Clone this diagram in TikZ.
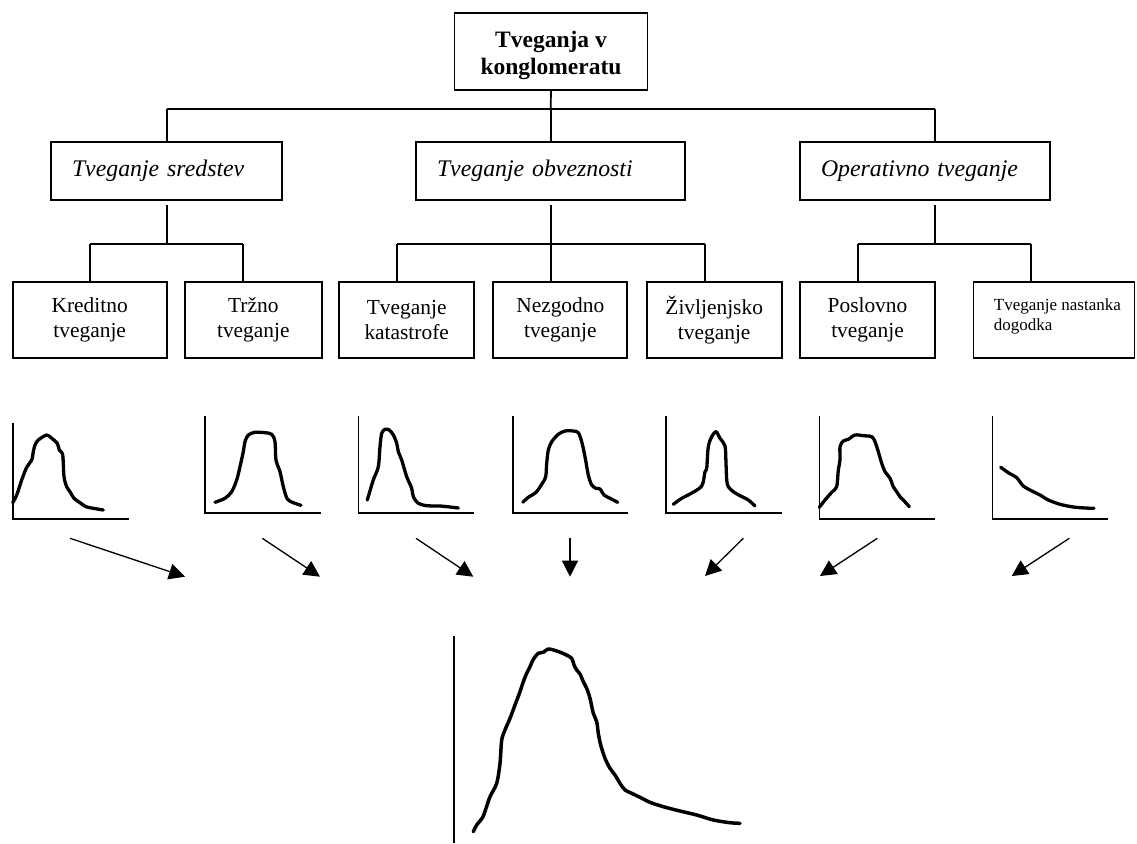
\documentclass[tikz,border=0pt]{standalone}
\usepackage{fontspec}
\setmainfont{Liberation Serif}
\usetikzlibrary{arrows.meta,calc}
\tikzset{
  box/.style={draw, line width=1.8pt, rectangle, inner sep=0pt},
  conn/.style={line width=1.7pt},
  axis/.style={line width=1.6pt},
  dist/.style={line width=3.3pt, line join=round, line cap=round},
  flow/.style={line width=1.3pt, -{Triangle[length=16pt,width=16pt]}},
  topfont/.style={font=\fontsize{23.5}{27.3}\selectfont\bfseries},
  midfont/.style={font=\fontsize{23.8}{28}\selectfont\itshape},
  lowfont/.style={font=\fontsize{21.4}{25.5}\selectfont},
  tinyfont/.style={font=\fontsize{17}{20}\selectfont},
}
\begin{document}
\begin{tikzpicture}[x=1pt,y=-1pt]
\useasboundingbox (0,0) rectangle (1137,843);

% top
\node[box, topfont, align=center, minimum width=193pt, minimum height=77pt] (top) at (551,51.7) {\rule{0pt}{24pt}Tveganja v\\konglomeratu};

% level 2
\node[box, midfont, minimum width=231pt, minimum height=58pt, text width=189pt, align=left, inner xsep=21pt] (l2a) at (166.5,171) {Tveganje sredstev};
\node[box, midfont, minimum width=269pt, minimum height=58pt, text width=227pt, align=left, inner xsep=21pt] (l2b) at (550.5,171) {Tveganje obveznosti};
\node[box, midfont, minimum width=250pt, minimum height=58pt, text width=208pt, align=left, inner xsep=21pt] (l2c) at (925,171) {Operativno tveganje};

% level 3
\node[box, lowfont, align=center, minimum width=154pt, minimum height=76.5pt] (k1) at (89.7,320) {Kreditno\\tveganje};
\node[box, lowfont, align=center, minimum width=136.7pt, minimum height=76.5pt] (k2) at (253.3,320) {Tržno\\tveganje};
\node[box, lowfont, align=center, minimum width=134.7pt, minimum height=76.5pt] (k3) at (406.7,320) {Tveganje\\katastrofe};
\node[box, lowfont, align=center, minimum width=134pt, minimum height=76.5pt] (k4) at (560.3,320) {Nezgodno\\tveganje};
\node[box, lowfont, align=center, minimum width=135pt, minimum height=76.5pt] (k5) at (714.2,320) {Življenjsko\\tveganje};
\node[box, lowfont, align=center, minimum width=135pt, minimum height=76.5pt] (k6) at (867.5,320) {Poslovno\\tveganje};
\node[box, minimum width=161pt, minimum height=76.5pt] (k7) at (1054,320) {};
\node[tinyfont, align=left, anchor=base west, inner sep=0pt] (k7t) at (993.7,330) {Tveganje nastanka\\dogodka};

% connectors level 1 -> 2
\coordinate (j0) at (550.7,109.3);
\coordinate (bL) at (166.7,109.3);
\coordinate (bR) at (934.7,109.3);
\draw[conn] (top.south) -- (j0);
\draw[conn] (bL) -- (bR);
\draw[conn] (bL) -- (bL |- l2a.north);
\draw[conn] (j0) -- (j0 |- l2b.north);
\draw[conn] (bR) -- (bR |- l2c.north);

% connectors level 2 -> 3
\coordinate (s1) at (166.7,205); \coordinate (h1) at (166.7,244);
\coordinate (s2) at (550.7,205); \coordinate (h2) at (550.7,244);
\coordinate (s3) at (934.7,205); \coordinate (h3) at (934.7,244);
\draw[conn] (s1) -- (h1);
\draw[conn] (s2) -- (h2);
\draw[conn] (s3) -- (h3);
\coordinate (g1a) at (90,244);   \coordinate (g1b) at (243.3,244);
\coordinate (g2a) at (397.3,244); \coordinate (g2b) at (705,244);
\coordinate (g3a) at (857.7,244); \coordinate (g3b) at (1030.7,244);
\draw[conn] (g1a) -- (g1b);
\draw[conn] (g2a) -- (g2b);
\draw[conn] (g3a) -- (g3b);
\draw[conn] (g1a) -- (g1a |- k1.north);
\draw[conn] (g1b) -- (g1b |- k2.north);
\draw[conn] (g2a) -- (g2a |- k3.north);
\draw[conn] (h2) -- (h2 |- k4.north);
\draw[conn] (g2b) -- (g2b |- k5.north);
\draw[conn] (g3a) -- (g3a |- k6.north);
\draw[conn] (g3b) -- (g3b |- k7.north);

% small distributions
\draw[axis] (12.7,423) -- (12.7,519) -- (129,519);
\draw[dist] plot[smooth, tension=0.5] coordinates {(12.7,502.7) (16.7,495) (21.7,480) (26.7,467.3) (31.7,460) (33.3,451.7) (35,445) (38.3,440) (46.7,435) (51.7,438.3) (57.3,443.3) (59.3,450) (62.7,455) (64,476.7) (66.7,486.7) (70,491.7) (74,498.3) (80,502.7) (86,506.7) (93.3,508.3) (103.3,510)};

\draw[axis] (205,416) -- (205,513) -- (320.7,513);
\draw[dist] plot[smooth, tension=0.5] coordinates {(215,502.3) (225,498.3) (231.7,491.7) (236.7,480) (240,466.7) (243.3,451.7) (245,441.7) (248.3,435) (255,432.3) (265,432.7) (271.7,434.3) (275,441.7) (276,460) (280,471.7) (283.3,486.7) (287.3,499) (293.3,502.7) (301,505.3)};

\draw[axis] (358.3,416) -- (358.3,513) -- (474.3,513);
\draw[dist] plot[smooth, tension=0.5] coordinates {(367.3,500) (373.3,480) (378.3,466.7) (380,446.7) (381.7,433.3) (385,429.3) (389.3,430) (393.3,435) (396.7,443.3) (398.3,451.7) (401.7,460) (406.7,476.7) (411.7,488.3) (413.3,496.7) (418.3,503.3) (426.7,505.7) (440,506) (450,507) (458.3,508)};

\draw[axis] (512.7,416) -- (512.7,513) -- (627.7,513);
\draw[dist] plot[smooth, tension=0.5] coordinates {(522.7,502.3) (528.3,497.3) (536,492.3) (542.3,483.3) (545.7,476.7) (546.7,463.3) (548.3,450) (551.7,441.7) (558.3,434.3) (565,431) (573.3,431) (578.3,432.7) (581.7,441.7) (585,456.7) (588.3,475) (591.7,485) (596,488.3) (600,489) (604,495) (610,498.3) (617.7,502.3)};

\draw[axis] (666,416) -- (666,513) -- (781.7,513);
\draw[dist] plot[smooth, tension=0.5] coordinates {(673.3,504.3) (681.7,498.3) (690,494) (701.7,486) (705,471.7) (706.7,468.3) (708.3,446.7) (711.7,436.7) (716,431.7) (720,438.3) (725,446) (726,463.3) (726.7,480) (728.3,486.7) (733.3,491.7) (740,495.7) (748.3,500) (755,506)};

\draw[axis] (819.3,416) -- (819.3,519) -- (935,519);
\draw[dist] plot[smooth, tension=0.5] coordinates {(819.3,507.3) (825,500) (831.7,492.3) (836.7,486.7) (838.3,470) (840,460) (840,446.7) (843.3,441) (848.3,439.3) (855,435) (863.3,435.7) (871.7,436.7) (875,441.7) (878.3,451.7) (881.7,463.3) (885,471.7) (890,478.3) (893.3,486.7) (896.7,491.7) (900,496.7) (903.3,500) (909.3,506.7)};

\draw[axis] (992.3,416) -- (992.3,519) -- (1108.3,519);
\draw[dist] plot[smooth, tension=0.5] coordinates {(1000.7,467.3) (1008.3,472.7) (1016.7,477.7) (1023.3,486) (1033.3,491.7) (1040,495) (1048.3,500) (1060,504.3) (1073.3,507) (1085,508) (1094,508.3)};

% arrows
\coordinate (a1s) at (70,538.3);    \coordinate (a1e) at (185,576.7);
\coordinate (a2s) at (262.3,538.3); \coordinate (a2e) at (320,576.7);
\coordinate (a3s) at (416,538.3);   \coordinate (a3e) at (473.3,576.7);
\coordinate (a4s) at (570,537.7);   \coordinate (a4e) at (570,576.7);
\coordinate (a5s) at (743.3,538.3); \coordinate (a5e) at (705,576);
\coordinate (a6s) at (877.3,538.3); \coordinate (a6e) at (820,576);
\coordinate (a7s) at (1069.3,538.3);\coordinate (a7e) at (1011.7,576);
\draw[flow] (a1s) -- (a1e);
\draw[flow] (a2s) -- (a2e);
\draw[flow] (a3s) -- (a3e);
\draw[flow] (a4s) -- (a4e);
\draw[flow] (a5s) -- (a5e);
\draw[flow] (a6s) -- (a6e);
\draw[flow] (a7s) -- (a7e);

% aggregate distribution
\draw[axis] (454,636) -- (454,843);
\draw[dist, line width=3.5pt] plot[smooth, tension=0.5] coordinates {(473.3,831.7) (476.7,825) (482.7,817.3) (486,808.3) (490,796.7) (496.7,783.3) (500,763.3) (501.7,740) (505,730) (510,718.3) (515,705) (520,691.7) (523.3,681.7) (526.7,673.3) (530,666.7) (533.3,659.3) (538.3,653.3) (543.3,652.3) (548.3,649) (556.7,651) (565,654.3) (571.7,658.3) (574,665) (576.7,670) (580,674) (583.3,681.7) (586.7,688.3) (590,698.3) (593.3,713.3) (596.7,721.7) (598.3,733.3) (600.7,745) (605,758.3) (610,768.3) (615,775) (620,783.3) (625,790) (631.7,793.3) (640,797.3) (650,802.3) (663.3,806.7) (680,811) (696.7,815) (713.3,820) (730,822.7) (740,823.3)};
\end{tikzpicture}
\end{document}
